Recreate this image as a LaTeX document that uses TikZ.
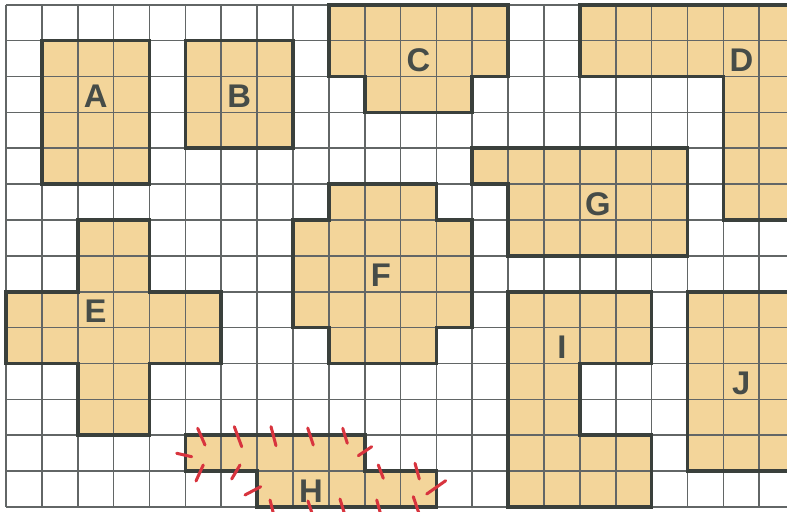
\documentclass[tikz,border=0pt]{standalone}
\usepackage{fontspec}
\setsansfont{Liberation Sans}
\usetikzlibrary{positioning}

\definecolor{tiletan}{RGB}{243,213,154}
\definecolor{gridgray}{RGB}{98,102,102}
\definecolor{outlinegray}{RGB}{58,64,60}
\definecolor{lettergray}{RGB}{70,76,72}
\definecolor{tickred}{RGB}{216,52,62}

\begin{document}
\begin{tikzpicture}[
    % one grid cell = 1 unit, origin at the bottom-left grid corner
    x=1cm,
    y=1cm,
    tile/.style={fill=tiletan},
    outline/.style={draw=outlinegray, line width=2.9pt, line join=miter},
    letter/.style={text=lettergray, inner sep=0pt, font=\sffamily\bfseries\fontsize{26}{26}\selectfont},
    redtick/.style={draw=tickred, line width=2.4pt, line cap=round}
]
    % --- Frame ---
    \useasboundingbox (-0.167,-0.112) rectangle (21.773,14.134);
    \fill[white] (-0.167,-0.112) rectangle (21.773,14.134);
    \clip (-0.167,-0.112) rectangle (21.773,14.134);

    % --- Regions ---
    \def\regA{(1,9) rectangle (4,13)}
    \def\regB{(5,10) rectangle (8,13)}
    \def\regC{(9,14) -- (14,14) -- (14,12) -- (13,12) -- (13,11) -- (10,11) -- (10,12) -- (9,12) -- cycle}
    \def\regD{(16,14) -- (22.5,14) -- (22.5,8) -- (20,8) -- (20,12) -- (16,12) -- cycle}
    \def\regE{(2,8) -- (4,8) -- (4,6) -- (6,6) -- (6,4) -- (4,4) -- (4,2) -- (2,2) -- (2,4) -- (0,4) -- (0,6) -- (2,6) -- cycle}
    \def\regF{(9,9) -- (12,9) -- (12,8) -- (13,8) -- (13,5) -- (12,5) -- (12,4) -- (9,4) -- (9,5) -- (8,5) -- (8,8) -- (9,8) -- cycle}
    \def\regG{(13,10) -- (19,10) -- (19,7) -- (14,7) -- (14,9) -- (13,9) -- cycle}
    \def\regH{(5,2) -- (10,2) -- (10,1) -- (12,1) -- (12,0) -- (7,0) -- (7,1) -- (5,1) -- cycle}
    \def\regI{(14,6) -- (18,6) -- (18,4) -- (16,4) -- (16,2) -- (18,2) -- (18,0) -- (14,0) -- cycle}
    \def\regJ{(19,1) rectangle (22.5,6)}

    \fill[tile] \regA \regB \regC \regD \regE \regF \regG \regH \regI \regJ;

    % --- Grid ---
    \draw[gridgray, line width=1.3pt] (0,0) grid (22,14);

    % --- Region borders ---
    \draw[outline] \regA \regB \regC \regD \regE \regF \regG \regH \regI \regJ;

    % --- Letters ---
    \foreach \name/\x/\y in {A/2.5/11.45, B/6.5/11.45, C/11.5/12.45, D/20.5/12.45, E/2.5/5.45,
                             F/10.45/6.45, G/16.5/8.45, H/8.5/0.45, I/15.5/4.45, J/20.5/3.45}
        \node[letter] (lab\name) at (\x,\y) {\name};

    % --- Red ticks round H ---
    \foreach \xa/\ya/\xb/\yb in {
        5.344/2.194/5.548/1.728, 6.365/2.239/6.571/1.681, 7.388/2.239/7.527/1.709,
        8.411/2.202/8.567/1.728, 9.387/2.194/9.515/1.776, 10.195/1.681/9.822/1.430,
        4.759/1.497/5.177/1.402, 5.500/1.171/5.297/0.725, 6.524/1.171/6.292/0.781,
        7.101/0.566/6.663/0.335, 10.379/1.171/10.519/0.800, 11.402/1.218/11.522/0.781,
        12.258/0.733/11.729/0.362, 7.360/0.195/7.460/-0.2, 8.419/0.167/8.540/-0.2,
        9.311/0.223/9.440/-0.2, 10.335/0.195/10.445/-0.2, 11.355/0.287/11.520/-0.2}
        \draw[redtick] (\xa,\ya) -- (\xb,\yb);

\end{tikzpicture}
\end{document}
